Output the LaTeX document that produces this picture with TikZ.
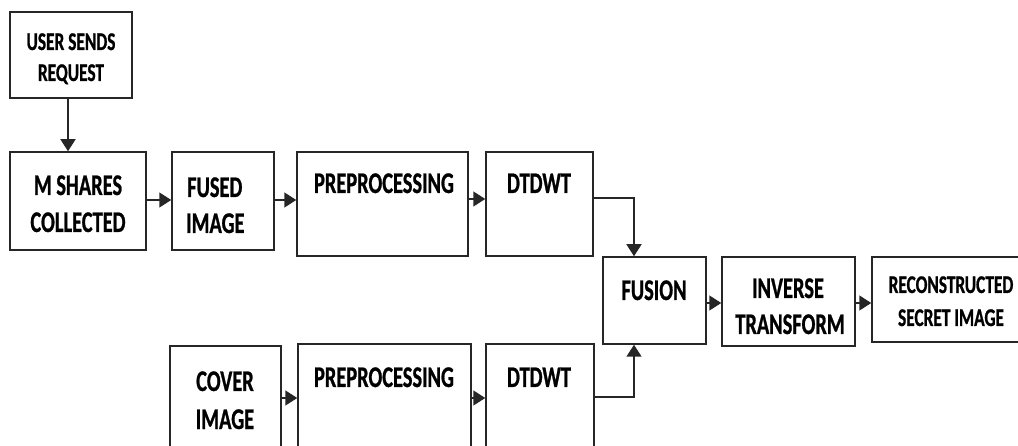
\documentclass[tikz,border=0pt]{standalone}
\usepackage{fontspec}
\newfontfamily\lbl{Carlito}[FakeStretch=0.68, BoldFeatures={FakeBold=0.8}]
\usetikzlibrary{arrows.meta}
\begin{document}
\begin{tikzpicture}[x=1pt,y=-1pt,
  box/.style={draw=black!85, line width=1.5pt, fill=none, inner sep=0pt},
  big/.style={font=\lbl\bfseries\fontsize{30}{30}\selectfont, anchor=base, inner sep=0pt, text=black},
  small/.style={font=\lbl\bfseries\fontsize{25.5}{25.5}\selectfont, anchor=base, inner sep=0pt, text=black},
  arr/.style={draw=black!85, line width=1.5pt, -{Triangle[length=12pt,width=15pt]}},
  ln/.style={draw=black!85, line width=1.5pt}]
\useasboundingbox (0,0) rectangle (1018,446);
\clip (0,0) rectangle (1018,446);
% boxes
\node[box, minimum width=122pt, minimum height=86pt] (user) at (71,55) {};
\node[box, minimum width=136pt, minimum height=98pt] (mshares) at (78,201) {};
\node[box, minimum width=102pt, minimum height=98pt] (fused) at (223,201) {};
\node[box, minimum width=171pt, minimum height=104pt] (pre1) at (382.5,204) {};
\node[box, minimum width=107pt, minimum height=104pt] (dt1) at (539.5,204) {};
\node[box, minimum width=103pt, minimum height=87pt] (fusion) at (654.5,300.5) {};
\node[box, minimum width=133pt, minimum height=89pt] (inv) at (788.5,301.5) {};
\node[box, minimum width=150pt, minimum height=85pt] (rec) at (947,299.5) {};
\node[box, minimum width=111pt, minimum height=124pt] (cover) at (225.5,408) {};
\node[box, minimum width=173pt, minimum height=126pt] (pre2) at (384.5,407) {};
\node[box, minimum width=108pt, minimum height=126pt] (dt2) at (540,407) {};
% texts
\node[small] (t1a) at (71,50) {USER SENDS};
\node[small] (t1b) at (71,81) {REQUEST};
\node[big] (t2a) at (78,195) {M SHARES};
\node[big] (t2b) at (78,232) {COLLECTED};
\node[big, anchor=base west] (t3a) at (187,197) {FUSED};
\node[big, anchor=base west] (t3b) at (186,233) {IMAGE};
\node[big] (t4) at (384,193) {PREPROCESSING};
\node[big] (t5) at (539,193) {DTDWT};
\node[big] (t6) at (654,300) {FUSION};
\node[big] (t7a) at (788,298) {INVERSE};
\node[big] (t7b) at (790,334) {TRANSFORM};
\node[small] (t8a) at (951,293) {RECONSTRUCTED};
\node[small] (t8b) at (951,326) {SECRET IMAGE};
\node[big] (t9a) at (225,391) {COVER};
\node[big] (t9b) at (225,429) {IMAGE};
\node[big] (t10) at (384,387) {PREPROCESSING};
\node[big] (t11) at (539,387) {DTDWT};
% connectors
\draw[arr] ([xshift=-3pt]user.south) -- ([xshift=-3pt]user.south |- mshares.north);
\draw[arr] ([yshift=1pt]mshares.east) -- ([yshift=1pt]mshares.east -| fused.west);
\draw[arr] ([yshift=1pt]fused.east) -- ([yshift=1pt]fused.east -| pre1.west);
\draw[arr] ([yshift=5pt]pre1.east) -- ([yshift=5pt]pre1.east -| dt1.west);
\draw[arr] ([yshift=6pt]dt1.east) -| ([xshift=-20.5pt]fusion.north);
\draw[arr] ([yshift=10pt]dt2.east) -| ([xshift=-20.5pt]fusion.south);
\draw[arr] ([yshift=-2.5pt]fusion.east) -- ([yshift=-2.5pt]fusion.east -| inv.west);
\draw[arr] ([yshift=-1.5pt]inv.east) -- ([yshift=-1.5pt]inv.east -| rec.west);
\draw[arr] ([yshift=10pt]cover.east) -- ([yshift=10pt]cover.east -| pre2.west);
\draw[arr] ([yshift=9pt]pre2.east) -- ([yshift=9pt]pre2.east -| dt2.west);
\end{tikzpicture}
\end{document}
